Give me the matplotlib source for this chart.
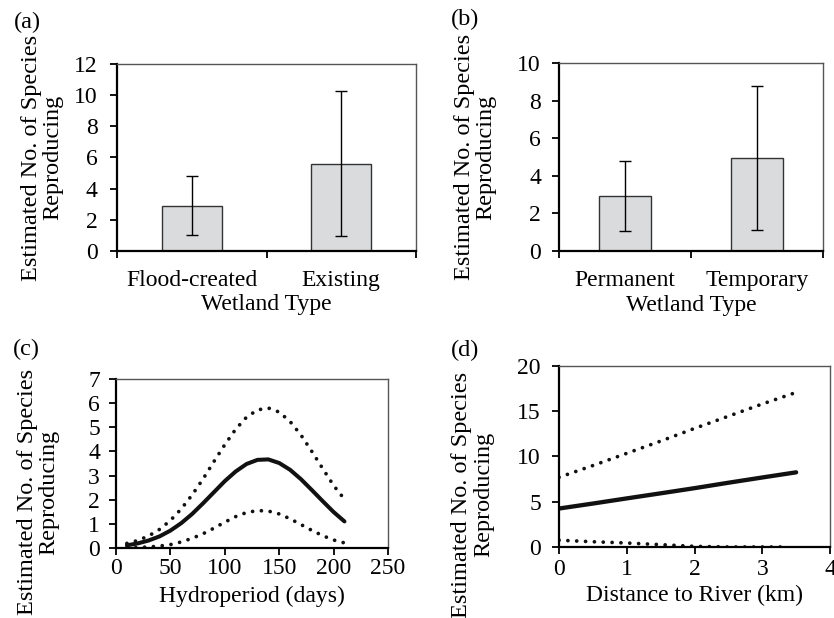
import numpy as np
import matplotlib
matplotlib.use("Agg")
import matplotlib.pyplot as plt

plt.rcParams["font.family"] = ["Liberation Serif", "DejaVu Serif"]
plt.rcParams["font.size"] = 17

# (a) wetland origin
cats_a = ["Flood-created", "Existing"]
mean_a = [2.9, 5.6]
low_a = [1.05, 0.98]
high_a = [4.8, 10.25]

# (b) wetland permanence
cats_b = ["Permanent", "Temporary"]
mean_b = [2.93, 4.96]
low_b = [1.07, 1.1]
high_b = [4.8, 8.8]

# (c) hydroperiod (days) with fitted value and bounds
hydro = [10, 20, 30, 40, 50, 60, 70, 80, 90, 100, 110, 120, 130, 140,
         150, 160, 170, 180, 190, 200, 210]
hydro_fit = [0.11, 0.19, 0.31, 0.48, 0.72, 1.03, 1.41, 1.85, 2.31, 2.77, 3.17,
             3.48, 3.65, 3.67, 3.52, 3.24, 2.85, 2.40, 1.94, 1.49, 1.10]
hydro_hi = [0.19, 0.31, 0.50, 0.77, 1.14, 1.62, 2.20, 2.86, 3.58, 4.28, 4.92,
            5.42, 5.72, 5.80, 5.63, 5.24, 4.68, 4.00, 3.29, 2.59, 2.02]
hydro_lo = [0.01, 0.02, 0.04, 0.08, 0.14, 0.25, 0.40, 0.59, 0.82, 1.07, 1.30,
            1.47, 1.55, 1.53, 1.41, 1.21, 0.97, 0.73, 0.51, 0.33, 0.21]

# (d) distance to river (km)
dist = [0.0, 0.5, 1.0, 1.5, 2.0, 2.5, 3.0, 3.5]
dist_fit = [4.25, 4.8, 5.37, 5.93, 6.5, 7.1, 7.68, 8.25]
dist_x_hi = [0.0, 0.5, 1.0, 1.5, 2.0, 2.5, 3.0, 3.45]
dist_hi = [7.7, 9.0, 10.35, 11.7, 13.1, 14.45, 15.8, 16.95]
dist_x_lo = [0.0, 0.5, 1.0, 1.5, 2.0, 2.5, 3.0, 3.3]
dist_lo = [0.75, 0.58, 0.44, 0.26, 0.07, 0.0, 0.0, 0.0]

YLABEL = "Estimated No. of Species\nReproducing"
DOT = (0, (0.01, 2.35))

fig = plt.figure(figsize=(8.34, 6.18), dpi=100)


def style_axes(ax, ypad):
    for side in ["left", "bottom"]:
        ax.spines[side].set_linewidth(1.6)
        ax.spines[side].set_color("black")
    for side in ["top", "right"]:
        ax.spines[side].set_linewidth(1.0)
        ax.spines[side].set_color("#555555")
    ax.tick_params(direction="out", length=5, width=1.3)
    ax.tick_params(axis="y", pad=ypad)


def set_labels(ax, xlab, xy, ly):
    ax.set_xlabel(xlab)
    ax.xaxis.set_label_coords(0.5, xy)
    ax.xaxis.label.set_verticalalignment("center")
    ax.set_ylabel(YLABEL, linespacing=1.05, fontsize=17.5)
    ax.yaxis.set_label_coords(*ly)
    ax.yaxis.label.set_verticalalignment("center")


def bar_panel(rect, cats, means, lows, highs, ymax, step, ypad, ly):
    ax = fig.add_axes(rect)
    pos = np.arange(len(cats))
    err = [np.array(means) - np.array(lows), np.array(highs) - np.array(means)]
    ax.bar(pos, means, width=0.4, color="#DADBDD", edgecolor="#333333",
           linewidth=1.0, zorder=2)
    ax.errorbar(pos, means, yerr=err, fmt="none", ecolor="black",
                elinewidth=1.0, capsize=4, capthick=1.0, zorder=3)
    ax.set_xlim(-0.5, len(cats) - 0.5)
    ax.set_ylim(0, ymax)
    ax.set_yticks(np.arange(0, ymax + 0.1, step))
    ax.set_xticks([-0.5, 0.5, 1.5])
    ax.set_xticklabels([])
    ax.set_xticks(pos, minor=True)
    ax.set_xticklabels(cats, minor=True)
    style_axes(ax, ypad)
    ax.tick_params(axis="x", which="minor", length=0, pad=13.5)
    set_labels(ax, "Wetland Type", -0.288, ly)
    return ax


bar_panel([0.1403, 0.5939, 0.3585, 0.3025], cats_a, mean_a, low_a, high_a,
          12, 2, 9, (-0.25, 0.5))
bar_panel([0.6703, 0.5939, 0.3165, 0.3041], cats_b, mean_b, low_b, high_b,
          10, 2, 8, (-0.318, 0.5))

# (c)
ax_c = fig.add_axes([0.1391, 0.1133, 0.3261, 0.2734])
ax_c.plot(hydro, hydro_fit, color="#111111", lw=2.9, solid_capstyle="round")
ax_c.plot(hydro, hydro_hi, color="#111111", lw=2.7, ls=DOT,
          dash_capstyle="round")
ax_c.plot(hydro, hydro_lo, color="#111111", lw=2.7, ls=DOT,
          dash_capstyle="round")
ax_c.set_xlim(0, 250)
ax_c.set_ylim(0, 7)
ax_c.set_xticks(np.arange(0, 251, 50))
ax_c.set_yticks(np.arange(0, 8, 1))
style_axes(ax_c, 6.5)
ax_c.tick_params(axis="x", pad=2)
set_labels(ax_c, "Hydroperiod (days)", -0.284, (-0.287, 0.33))

# (d)
ax_d = fig.add_axes([0.6703, 0.1149, 0.3249, 0.2929])
ax_d.plot(dist, dist_fit, color="#111111", lw=3.1, solid_capstyle="round")
ax_d.plot(dist_x_hi, dist_hi, color="#111111", lw=2.7, ls=DOT,
          dash_capstyle="round")
ax_d.plot(dist_x_lo, dist_lo, color="#111111", lw=2.7, ls=DOT,
          dash_capstyle="round")
ax_d.set_xlim(0, 4)
ax_d.set_ylim(0, 20)
ax_d.set_xticks(np.arange(0, 5, 1))
ax_d.set_yticks(np.arange(0, 21, 5))
style_axes(ax_d, 8)
ax_d.tick_params(axis="x", pad=4)
set_labels(ax_d, "Distance to River (km)", -0.27, (-0.318, 0.29))

# panel letters
for lab, px, py in [("(a)", 27, 22), ("(b)", 465, 19),
                    ("(c)", 26, 349), ("(d)", 465, 350)]:
    fig.text(px / 834, 1 - py / 618, lab, ha="center", va="center",
             fontsize=17.5)

fig.savefig("out.png", dpi=100)
